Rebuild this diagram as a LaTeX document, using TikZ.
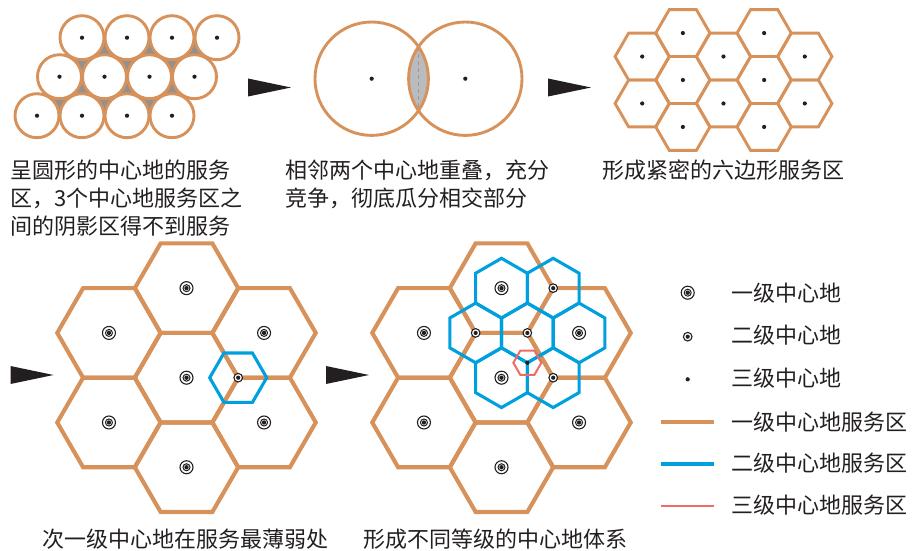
\documentclass[tikz,border=0pt]{standalone}
\usepackage{fontspec}
\newfontfamily\cjk{Noto Sans CJK SC}
\definecolor{zoneone}{RGB}{214,146,90}
\definecolor{zonetwo}{RGB}{0,160,222}
\definecolor{zonethree}{RGB}{238,108,100}
\definecolor{gapgray}{RGB}{145,145,145}
\definecolor{lensgray}{RGB}{186,187,191}
\definecolor{ink}{RGB}{35,31,32}
\tikzset{
  ringline/.style  = {draw=zoneone, line width=2.9pt},
  ringcell/.style  = {ringline, fill=white},
  zonethin/.style  = {draw=zoneone, line width=2.9pt},
  zonethick/.style = {draw=zoneone, line width=4.1pt},
  servetwo/.style  = {draw=zonetwo, line width=3.1pt},
  servethree/.style= {draw=zonethree, line width=2pt},
  splitline/.style = {draw=gray!80, line width=1.4pt, dash pattern=on 4pt off 3pt},
  pointer/.style   = {fill=ink},
  captxt/.style    = {font=\cjk\fontsize{22}{28}\selectfont, align=left,
                      anchor=north west, inner sep=0pt, text=ink},
  legtxt/.style    = {font=\cjk\fontsize{22}{28}\selectfont,
                      anchor=west, inner sep=0pt, text=ink},
}
% flat-topped and pointy-topped hexagon round a centre
\newcommand{\hexflat}[3]{\draw[#1] #2 +(0:#3) -- +(60:#3) -- +(120:#3) -- +(180:#3) -- +(240:#3) -- +(300:#3) -- cycle;}
\newcommand{\hexpoint}[3]{\draw[#1] #2 +(30:#3) -- +(90:#3) -- +(150:#3) -- +(210:#3) -- +(270:#3) -- +(330:#3) -- cycle;}
% central places of three ranks
\newcommand{\cenone}[1]{\filldraw[fill=white, draw=ink, line width=1.1pt] #1 circle[radius=6.5];
  \draw[ink, line width=1pt] #1 circle[radius=3.5]; \fill[ink] #1 circle[radius=2.2];}
\newcommand{\centwo}[1]{\filldraw[fill=white, draw=ink, line width=1.1pt] #1 circle[radius=4.3];
  \fill[ink] #1 circle[radius=2.1];}
\newcommand{\centhree}[1]{\fill[ink] #1 circle[radius=2.1];}

\begin{document}
\begin{tikzpicture}[x=1pt, y=-1pt]
  \useasboundingbox (0,0) rectangle (913,551);

  % circular service areas with unserved gaps
  \foreach \i in {0,...,3} \foreach \j in {0,1,2}
    \coordinate (c\i\j) at ({82+45*\i-22.5*\j},{37.7+39*\j});
  \foreach \i/\k in {0/1,1/2,2/3} \foreach \j/\l in {0/1,1/2} {
    \fill[gapgray] (c\i\j) -- (c\i\l) -- (c\k\l) -- cycle;
    \fill[gapgray] (c\i\j) -- (c\k\j) -- (c\k\l) -- cycle;
  }
  \foreach \i in {0,...,3} \foreach \j in {0,1,2} {
    \filldraw[ringcell] (c\i\j) circle[radius=22];
    \centhree{(c\i\j)}
  }

  % two overlapping areas
  \coordinate (pl) at (371.7,78.7);
  \coordinate (pr) at (465.3,78.7);
  \coordinate (st) at (418.5,47);
  \coordinate (sb) at (418.5,110.5);
  \begin{scope}
    \clip (pl) circle[radius=56.7];
    \fill[lensgray] (pr) circle[radius=56.7];
  \end{scope}
  \draw[splitline] (st) -- (sb);
  \draw[ringline] (pl) circle[radius=56.7] (pr) circle[radius=56.7];
  \centhree{(pl)} \centhree{(pr)}

  % close-packed hexagons
  \foreach \x/\y in {642.2/56.53, 642.2/103.47, 682.85/33.06, 682.85/80, 682.85/126.94,
                     723.5/56.53, 723.5/103.47, 764.15/33.06, 764.15/80, 764.15/126.94,
                     804.8/56.53, 804.8/103.47} {
    \hexflat{zonethin}{(\x,\y)}{27.1}
    \centhree{(\x,\y)}
  }

  % next rank at the weakest point
  \begin{scope}[shift={(186.5,377.7)}]
    \foreach \x/\y in {0/0, 0/-89.55, 0/89.55, -77.55/-44.775, 77.55/-44.775, -77.55/44.775, 77.55/44.775}
      {\hexflat{zonethick}{(\x,\y)}{51.7}}
    \hexflat{servetwo}{(51.7,0)}{28.5}
    \foreach \x/\y in {0/0, 0/-89.55, 0/89.55, -77.55/-44.775, 77.55/-44.775, -77.55/44.775, 77.55/44.775}
      {\cenone{(\x,\y)}}
    \centwo{(51.7,0)}
  \end{scope}

  % full hierarchy
  \begin{scope}[shift={(501.5,377.7)}]
    \foreach \x/\y in {0/0, 0/-89.55, 0/89.55, -77.55/-44.775, 77.55/-44.775, -77.55/44.775, 77.55/44.775}
      {\hexflat{zonethick}{(\x,\y)}{51.7}}
    \foreach \x/\y in {0/-89.55, 51.7/-89.55, -25.85/-44.775, 25.85/-44.775, 77.55/-44.775, 0/0, 51.7/0}
      {\hexpoint{servetwo}{(\x,\y)}{29.85}}
    \hexflat{servethree}{(25.85,-14.925)}{14}
    \foreach \x/\y in {0/0, 0/-89.55, 0/89.55, -77.55/-44.775, 77.55/-44.775, -77.55/44.775, 77.55/44.775}
      {\cenone{(\x,\y)}}
    \foreach \x/\y in {51.7/-89.55, -25.85/-44.775, 25.85/-44.775, 51.7/0}
      {\centwo{(\x,\y)}}
    \centhree{(25.85,-14.925)}
  \end{scope}

  % arrows between stages
  \fill[pointer] (248,78.5) -- (291,87.5) -- (248,96.5) -- cycle;
  \fill[pointer] (548,78.5) -- (591,87.5) -- (548,96.5) -- cycle;
  \fill[pointer] (10.5,366) -- (53.5,375) -- (10.5,384) -- cycle;
  \fill[pointer] (326,366) -- (369,375) -- (326,384) -- cycle;

  % captions
  \node[captxt] (cap1) at (10,160) {呈圆形的中心地的服务\\区，3个中心地服务区之\\间的阴影区得不到服务};
  \node[captxt] (cap2) at (285,160) {相邻两个中心地重叠，充分\\竞争，彻底瓜分相交部分};
  \node[captxt] (cap3) at (602.5,160) {形成紧密的六边形服务区};
  \node[captxt] (cap4) at (42.5,528.5) {次一级中心地在服务最薄弱处};
  \node[captxt] (cap5) at (363,528.5) {形成不同等级的中心地体系};

  % legend
  \cenone{(687.7,292.7)}
  \centwo{(687.7,336.7)}
  \centhree{(687.7,379.3)}
  \coordinate (k1a) at (660.7,422); \coordinate (k1b) at (714.3,422);
  \coordinate (k2a) at (660.7,464); \coordinate (k2b) at (714.3,464);
  \coordinate (k3a) at (660.7,506); \coordinate (k3b) at (714.3,506);
  \draw[zonethick] (k1a) -- (k1b);
  \draw[servetwo] (k2a) -- (k2b);
  \draw[servethree] (k3a) -- (k3b);
  \node[legtxt] (lg1) at (731.5,292.7) {一级中心地};
  \node[legtxt] (lg2) at (731.5,335.5) {二级中心地};
  \node[legtxt] (lg3) at (731.5,378.3) {三级中心地};
  \node[legtxt] (lg4) at (731.5,422) {一级中心地服务区};
  \node[legtxt] (lg5) at (731.5,463) {二级中心地服务区};
  \node[legtxt] (lg6) at (731.5,505.5) {三级中心地服务区};
\end{tikzpicture}
\end{document}
